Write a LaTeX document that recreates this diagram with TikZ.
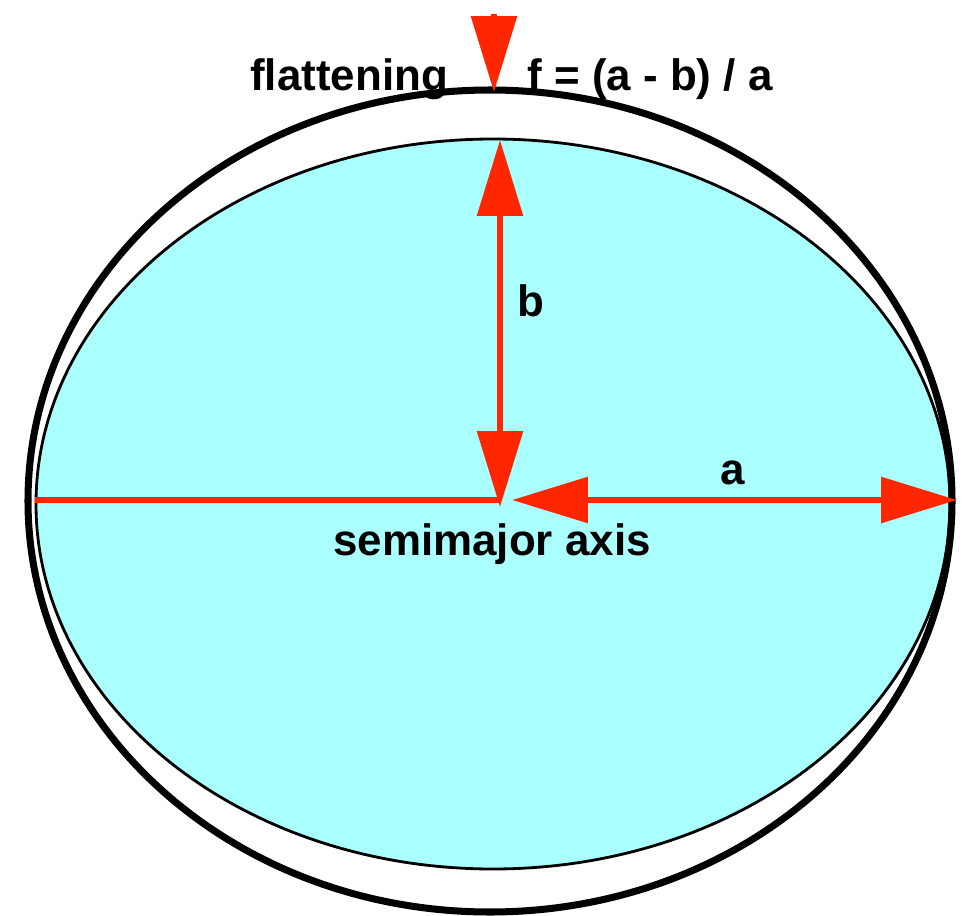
\documentclass[tikz,border=0pt]{standalone}
\usepackage{fontspec}
\setmainfont{Liberation Sans}
\usetikzlibrary{arrows.meta}
\usetikzlibrary{calc}

\definecolor{seacyan}{RGB}{170,255,255}
\definecolor{axisred}{RGB}{255,38,0}

\begin{document}
\begin{tikzpicture}[
        x=0.02cm, y=-0.02cm,
        >={Triangle[length=1.52cm, width=0.9cm]},
        axisline/.style={draw=axisred, line width=3.4pt},
        lbl/.style={font=\fontsize{25}{30}\selectfont\bfseries,
                    inner sep=0pt, anchor=base west}
    ]
    \useasboundingbox (0,0) rectangle (971,916);

    % ------- sphere and ellipsoid -------
    \draw[fill=seacyan, line width=1.6pt] (493,504) ellipse [x radius=457, y radius=365];
    \draw[line width=4pt] (490,501) ellipse [x radius=462, y radius=411];

    % ------- axes -------
    \coordinate (O) at (500,500);
    \coordinate (west) at (35,500);
    \coordinate (atail) at (512,500);
    \coordinate (aend) at (957,500);
    \coordinate (btail) at (500,507);
    \coordinate (bend) at (500,140);
    \coordinate (ftop) at (494,14);
    \coordinate (fpt) at (494,92);

    \draw[axisline] (west) -- (O);
    \draw[axisline, <->] (atail) -- (aend);
    \draw[axisline, <->] (btail) -- (bend);
    \draw[axisline, ->] (ftop) -- (fpt);

    % ------- labels -------
    \node[lbl] (flat) at (250,90) {flattening};
    \node[lbl] (formula) at (527,90) {f = (a - b) / a};
    \node[lbl] (blbl) at (517,316) {b};
    \node[lbl] (albl) at (720,484) {a};
    \node[lbl] (semi) at (333,555) {semimajor axis};

\end{tikzpicture}
\end{document}
